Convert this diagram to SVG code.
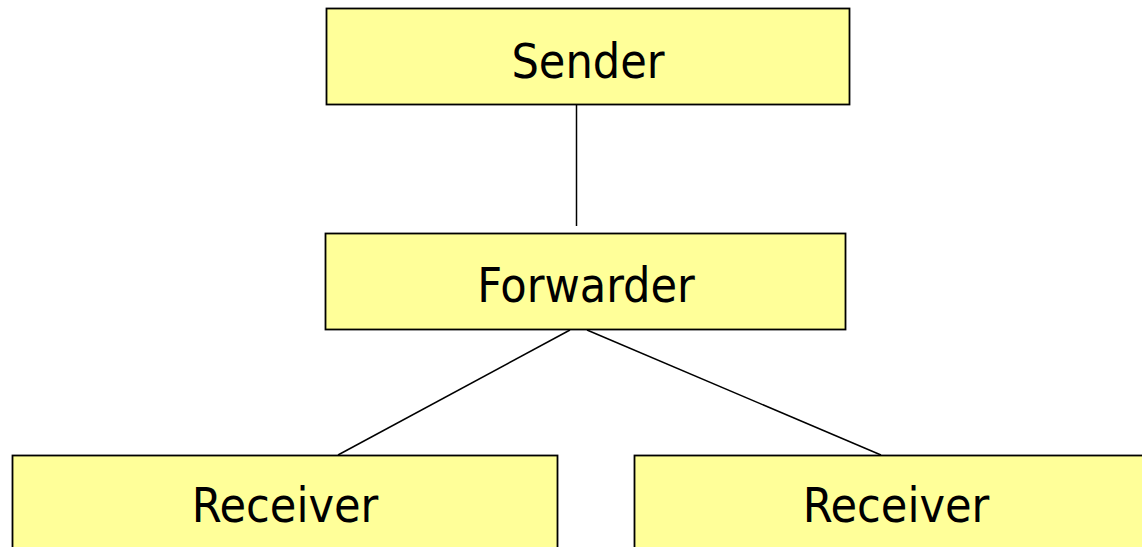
<svg xmlns="http://www.w3.org/2000/svg" width="1142" height="547" viewBox="0 0 1142 547">
<style>
.box{fill:#ffff99;stroke:#000;stroke-width:1.8}
.lbl{font-family:"DejaVu Sans Condensed","DejaVu Sans",sans-serif;font-stretch:condensed;font-size:48px;fill:#000;text-anchor:middle}
.edge{stroke:#000;stroke-width:1.5;fill:none}
</style>
<rect width="1142" height="547" fill="#fff"/>
<g id="connectors">
<line class="edge" x1="576.5" y1="104" x2="576.5" y2="226"/>
<line class="edge" x1="570" y1="330" x2="338" y2="455"/>
<line class="edge" x1="587" y1="330" x2="881" y2="455"/>
</g>
<g id="sender">
<rect class="box" x="326.5" y="8.5" width="523" height="96"/>
<text class="lbl" x="588" y="78">Sender</text>
</g>
<g id="forwarder">
<rect class="box" x="325.5" y="233.5" width="520" height="96"/>
<text class="lbl" x="586" y="302">Forwarder</text>
</g>
<g id="receiver1">
<rect class="box" x="12.5" y="455.5" width="545" height="96"/>
<text class="lbl" x="285" y="522">Receiver</text>
</g>
<g id="receiver2">
<rect class="box" x="634.5" y="455.5" width="545" height="96"/>
<text class="lbl" x="896" y="522">Receiver</text>
</g>
</svg>
